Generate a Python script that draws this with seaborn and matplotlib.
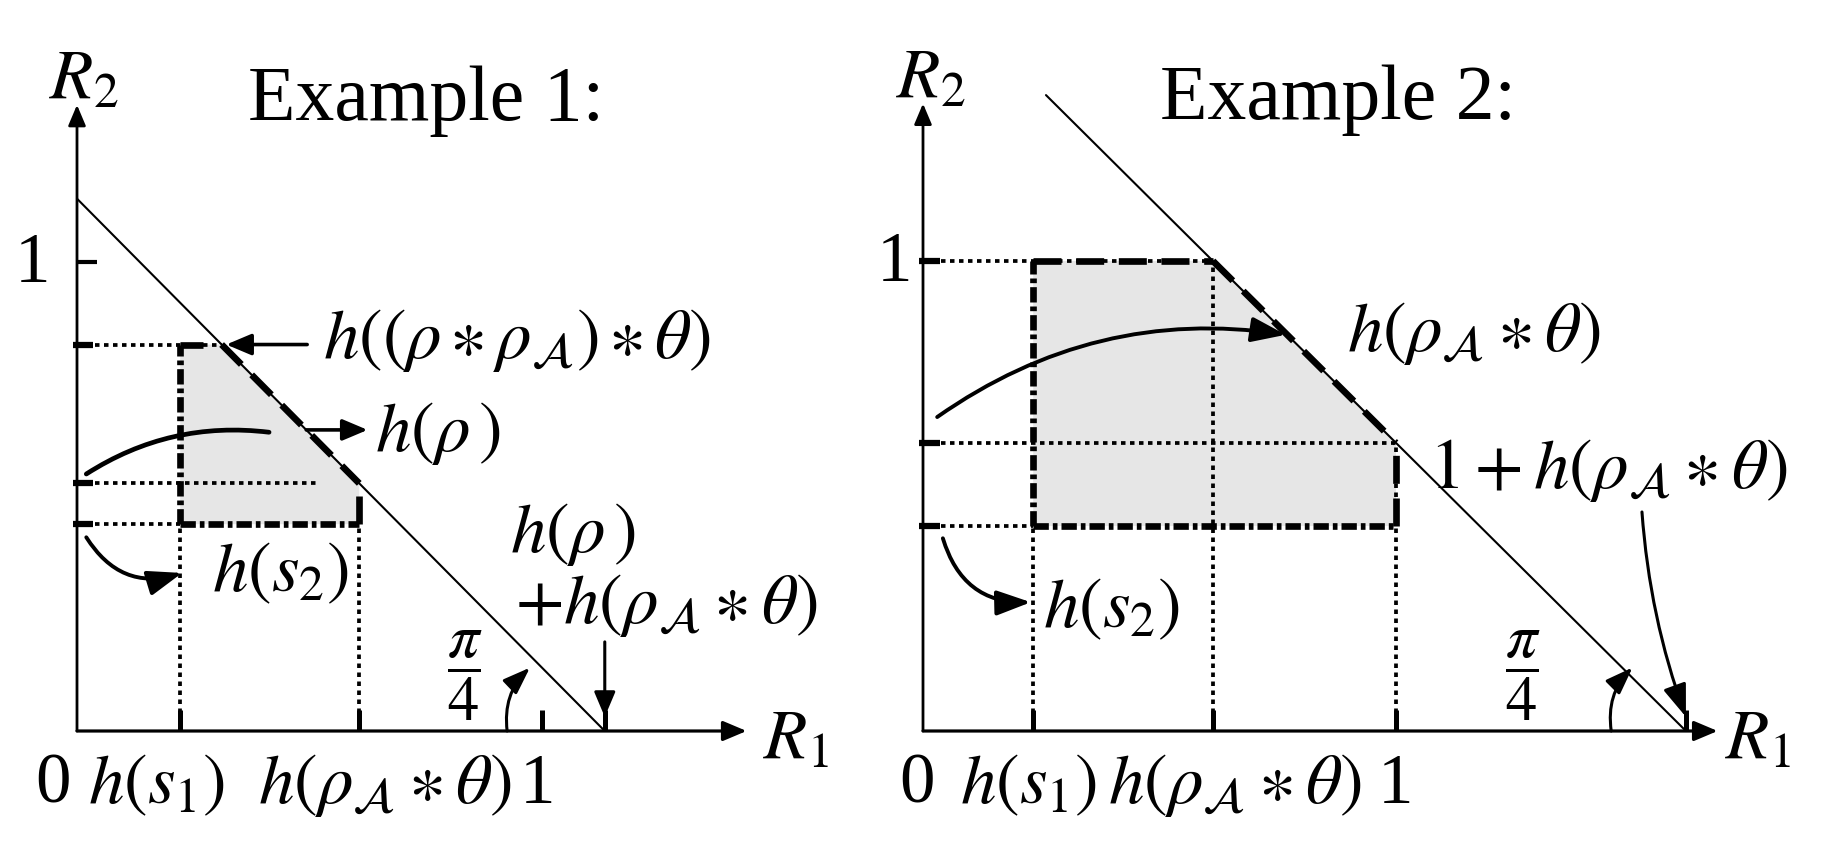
import matplotlib
matplotlib.use("Agg")
import matplotlib.pyplot as plt
import seaborn as sns
from matplotlib.patches import Polygon, FancyArrowPatch

sns.set_theme(style="white")
plt.rcParams['font.family'] = ['Liberation Serif', 'DejaVu Serif']
plt.rcParams['mathtext.fontset'] = 'stix'
plt.rcParams['text.color'] = 'black'

# ---------------- data ----------------
panel_titles = ["Example 1:", "Example 2:"]
# Example 1 levels
ex1_s1 = 0.222         # h(s1)
ex1_rhoA = 0.607       # h(rho_A * theta)
ex1_sum = 1.135        # h(rho) + h(rho_A * theta)
ex1_s2 = 0.441         # h(s2)
ex1_top = 0.824        # h((rho*rho_A)*theta)
ex1_xticklabels = ["0", r"$h(s_1)$", r"$h(\rho_{\mathcal{A}}\ast\theta)$", "1"]
# Example 2 levels
ex2_s1 = 0.233
ex2_rhoA = 0.613
ex2_sum = 1.613        # 1 + h(rho_A * theta)
ex2_s2 = 0.436
ex2_top = 1.0
ex2_xticklabels = ["0", r"$h(s_1)$", r"$h(\rho_{\mathcal{A}}\ast\theta)$", "1"]

# ---------------- figure ----------------
W, H = 1837, 853
fig = plt.figure(figsize=(W / 100, H / 100), dpi=100)
OY = 732.0

def make_ax(ox, ux, uy):
    ax = fig.add_axes([0, 0, 1, 1])
    ax.set_xlim(-ox / ux, (W - ox) / ux)
    ax.set_ylim(-(H - OY) / uy, OY / uy)
    ax.set_axis_off()
    ax.patch.set_alpha(0)
    return ax

axL = make_ax(77.0, 465.0, 469.0)
axR = make_ax(923.0, 473.0, 470.0)

K = 'black'
DOT = (0, (1.2, 1.2))
DDOT = (0, (2.3, 0.6, 0.7, 0.6))
DASH = (0, (4.2, 2.2))
LWD = 2.7     # dotted
LWT = 4.8     # thick border
FS = 51
FST = 56
FSPI = 45
HEAD = '-|>,head_length=0.9,head_width=0.38'

def straight_arrow(ax, p0, p1, lw=2.4, ms=14):
    a = FancyArrowPatch(p0, p1, arrowstyle=HEAD, mutation_scale=ms, lw=lw,
                        color=K, shrinkA=0, shrinkB=0)
    ax.add_patch(a)

def curved(ax, p0, p1, rad, head=True, lw=2.8, ms=19):
    style = '-|>,head_length=1.1,head_width=0.4' if head else '-'
    a = FancyArrowPatch(p0, p1, connectionstyle=f"arc3,rad={rad}", arrowstyle=style,
                        mutation_scale=ms, lw=lw, color=K, shrinkA=0, shrinkB=0)
    ax.add_patch(a)

def axes_arrows(ax, xmax, ymax):
    straight_arrow(ax, (0, 0), (xmax, 0), lw=2.3, ms=16)
    straight_arrow(ax, (0, 0), (0, ymax), lw=2.0, ms=14)

def xtick(ax, x, h=0.045):
    ax.plot([x, x], [0, h], color=K, lw=3.6, solid_capstyle='butt')

def ytick(ax, y):
    ax.plot([-0.008, 0.035], [y, y], color=K, lw=4.5, solid_capstyle='butt')

def region(ax, poly):
    ax.add_patch(Polygon(poly, closed=True, facecolor='#e6e6e6', edgecolor='none', zorder=0))

# ================= Example 1 =================
ax = axL
hr = ex1_sum - ex1_rhoA                      # h(rho)
xt = ex1_sum - ex1_top                       # x where top meets diagonal
region(ax, [(ex1_s1, ex1_s2), (ex1_rhoA, ex1_s2), (ex1_rhoA, hr), (xt, ex1_top), (ex1_s1, ex1_top)])
sns.lineplot(x=[0, ex1_sum], y=[ex1_sum, 0], ax=ax, color=K, lw=1.5, legend=False)
# dotted guides
ax.plot([0, xt], [ex1_top, ex1_top], color=K, lw=LWD, ls=DOT)
ax.plot([0, 0.52], [hr, hr], color=K, lw=LWD, ls=DOT)
ax.plot([0, ex1_s1], [ex1_s2, ex1_s2], color=K, lw=LWD, ls=DOT)
ax.plot([ex1_s1, ex1_s1], [0, ex1_s2], color=K, lw=LWD, ls=DOT)
ax.plot([ex1_rhoA, ex1_rhoA], [0, ex1_s2], color=K, lw=LWD, ls=DOT)
# region border
ax.plot([ex1_s1, ex1_s1], [ex1_s2, ex1_top], color=K, lw=LWT, ls=DDOT)
ax.plot([ex1_s1, ex1_rhoA], [ex1_s2, ex1_s2], color=K, lw=LWT, ls=DDOT)
ax.plot([ex1_s1, ex1_s1 + 0.05], [ex1_top, ex1_top], color=K, lw=LWT, solid_capstyle='butt')
ax.plot([xt, ex1_rhoA], [ex1_top, hr], color=K, lw=LWT, ls=DASH)
ax.plot([ex1_rhoA, ex1_rhoA], [ex1_s2, hr], color=K, lw=LWT, ls=DASH)
axes_arrows(ax, 1.44, 1.335)
for v in [ex1_s1, ex1_rhoA, 1.0, ex1_sum]:
    xtick(ax, v)
for v in [ex1_top, hr, ex1_s2]:
    ytick(ax, v)
ax.plot([0, 0.042], [1, 1], color=K, lw=3.0, solid_capstyle='butt')
# labels
ax.text(-0.06, 1.35, r"$R_2$", fontsize=FS, ha='left', va='baseline')
ax.text(0.368, 1.305, panel_titles[0], fontsize=FST, ha='left', va='baseline')
ax.text(-0.095, 0.96, "1", fontsize=FS, ha='center', va='baseline')
ax.text(1.475, -0.057, r"$R_1$", fontsize=FS, ha='left', va='baseline')
ax.text(-0.052, -0.151, ex1_xticklabels[0], fontsize=FS, ha='center', va='baseline')
ax.text(0.024, -0.151, ex1_xticklabels[1], fontsize=FS, ha='left', va='baseline')
ax.text(0.39, -0.151, ex1_xticklabels[2], fontsize=FS, ha='left', va='baseline')
ax.text(0.99, -0.151, ex1_xticklabels[3], fontsize=FS, ha='center', va='baseline')
ax.text(0.53, 0.797, r"$h((\rho\,{\ast}\,\rho_{\mathcal{A}})\,{\ast}\,\theta)$", fontsize=FS, ha='left', va='baseline')
straight_arrow(ax, (0.495, ex1_top), (xt + 0.01, ex1_top), lw=2.6, ms=17)
ax.text(0.64, 0.6, r"$h(\rho\,)$", fontsize=FS, ha='left', va='baseline')
straight_arrow(ax, (ex1_sum - 0.642, 0.642), (0.625, 0.642), lw=2.6, ms=17)
curved(ax, (0.02, 0.548), (0.413, 0.637), -0.18, head=False, lw=3.4)
curved(ax, (0.02, 0.413), (0.226, 0.337), 0.38)
ax.text(0.29, 0.30, r"$h(s_2)$", fontsize=FS, ha='left', va='baseline')
ax.text(0.931, 0.384, r"$h(\rho\,)$", fontsize=FS, ha='left', va='baseline')
ax.text(0.942, 0.232, r"$+h(\rho_{\mathcal{A}}\ast\theta)$", fontsize=FS, ha='left', va='baseline')
straight_arrow(ax, (ex1_sum, 0.19), (ex1_sum, 0.03), lw=2.2, ms=17)
ax.text(0.834, 0.12, r"$\dfrac{\pi}{4}$", fontsize=FSPI, ha='center', va='center')
curved(ax, (0.925, 0.0), (0.974, 0.135), -0.25, lw=2.2, ms=15)

# ================= Example 2 =================
ax = axR
hr2 = ex2_sum - 1.0
region(ax, [(ex2_s1, ex2_s2), (1.0, ex2_s2), (1.0, hr2), (ex2_rhoA, ex2_top), (ex2_s1, ex2_top)])
sns.lineplot(x=[0.26, ex2_sum], y=[ex2_sum - 0.26, 0], ax=ax, color=K, lw=1.5, legend=False)
ax.plot([0, ex2_rhoA], [ex2_top, ex2_top], color=K, lw=LWD, ls=DOT)
ax.plot([0, 1.0], [hr2, hr2], color=K, lw=LWD, ls=DOT)
ax.plot([0, ex2_s1], [ex2_s2, ex2_s2], color=K, lw=LWD, ls=DOT)
ax.plot([ex2_s1, ex2_s1], [0, ex2_s2], color=K, lw=LWD, ls=DOT)
ax.plot([ex2_rhoA, ex2_rhoA], [0, ex2_top], color=K, lw=LWD, ls=DOT)
ax.plot([1.0, 1.0], [0, hr2], color=K, lw=LWD, ls=DOT)
ax.plot([ex2_s1, ex2_s1], [ex2_s2, ex2_top], color=K, lw=LWT, ls=DDOT)
ax.plot([ex2_s1, 1.0], [ex2_s2, ex2_s2], color=K, lw=LWT, ls=DDOT)
ax.plot([ex2_s1, ex2_rhoA], [ex2_top, ex2_top], color=K, lw=LWT, ls=DASH)
ax.plot([ex2_rhoA, 1.0], [ex2_top, hr2], color=K, lw=LWT, ls=DASH)
ax.plot([1.0, 1.0], [ex2_s2, hr2], color=K, lw=LWT, ls=DASH)
axes_arrows(ax, 1.68, 1.335)
for v in [ex2_s1, ex2_rhoA, 1.0, ex2_sum]:
    xtick(ax, v)
for v in [ex2_top, hr2, ex2_s2]:
    ytick(ax, v)
ax.text(-0.057, 1.35, r"$R_2$", fontsize=FS, ha='left', va='baseline')
ax.text(0.501, 1.305, panel_titles[1], fontsize=FST, ha='left', va='baseline')
ax.text(-0.06, 0.96, "1", fontsize=FS, ha='center', va='baseline')
ax.text(1.695, -0.057, r"$R_1$", fontsize=FS, ha='left', va='baseline')
ax.text(-0.0127, -0.151, ex2_xticklabels[0], fontsize=FS, ha='center', va='baseline')
ax.text(0.078, -0.151, ex2_xticklabels[1], fontsize=FS, ha='left', va='baseline')
ax.text(0.392, -0.151, ex2_xticklabels[2], fontsize=FS, ha='left', va='baseline')
ax.text(0.998, -0.151, ex2_xticklabels[3], fontsize=FS, ha='center', va='baseline')
ax.text(0.896, 0.81, r"$h(\rho_{\mathcal{A}}\ast\theta)$", fontsize=FS, ha='left', va='baseline')
curved(ax, (0.03, 0.668), (0.767, 0.843), -0.2)
curved(ax, (0.042, 0.41), (0.228, 0.274), 0.38)
ax.text(0.254, 0.223, r"$h(s_2)$", fontsize=FS, ha='left', va='baseline')
ax.text(1.07, 0.52, r"$1+h(\rho_{\mathcal{A}}\ast\theta)$", fontsize=FS, ha='left', va='baseline')
curved(ax, (1.52, 0.466), (ex2_sum, 0.03), 0.07, lw=2.2, ms=18)
ax.text(1.268, 0.12, r"$\dfrac{\pi}{4}$", fontsize=FSPI, ha='center', va='center')
curved(ax, (1.455, 0.0), (1.50, 0.135), -0.25, lw=2.2, ms=15)

fig.savefig("out.png", dpi=100, facecolor='white')
